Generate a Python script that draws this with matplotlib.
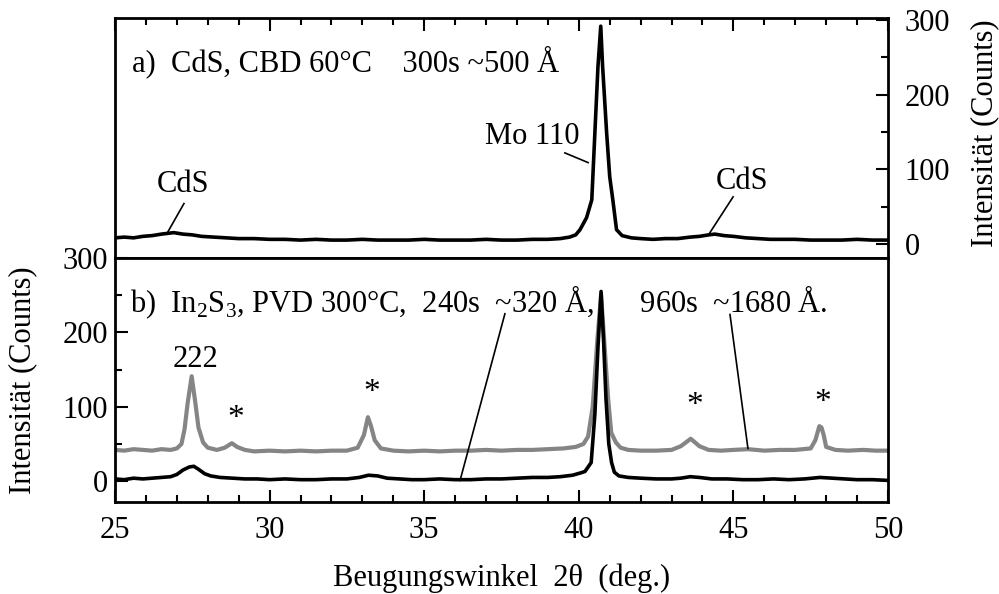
import numpy as np
import matplotlib.pyplot as plt
from matplotlib.ticker import MultipleLocator

FONT_SIZE = 22
plt.rcParams['font.family'] = ['Liberation Serif', 'DejaVu Serif']
plt.rcParams['mathtext.fontset'] = 'custom'
plt.rcParams['mathtext.rm'] = 'Liberation Serif'
plt.rcParams['font.size'] = FONT_SIZE

# a) CdS, CBD 60°C, 300 s
cds_x = [25.0, 25.3, 25.6, 25.9, 26.2, 26.5, 26.7, 26.9, 27.2, 27.5, 27.8, 28.2, 28.6, 29.0, 29.5,
         30.0, 30.5, 31.0, 31.5, 32.0, 32.5, 33.0, 33.5, 34.0, 34.5, 35.0, 35.5, 36.0, 36.5, 37.0,
         37.5, 38.0, 38.5, 39.0, 39.4, 39.7, 39.9, 40.04, 40.25, 40.42, 40.52, 40.62, 40.71, 40.77,
         40.9, 41.0, 41.1, 41.22, 41.4, 41.7, 42.0, 42.4, 42.8, 43.2, 43.6, 43.9, 44.2, 44.4, 44.7,
         45.0, 45.4, 45.8, 46.2, 46.6, 47.0, 47.5, 48.0, 48.5, 49.0, 49.5, 50.0]
cds_y = [8, 9, 8, 10, 11, 13, 14, 15, 13, 12, 10, 9, 8, 7, 7,
         6, 6, 5, 6, 5, 5, 6, 5, 5, 5, 6, 5, 5, 5, 6,
         5, 5, 6, 6, 7, 9, 12, 19, 35, 59, 149, 238, 292, 238,
         149, 90, 59, 19, 11, 8, 7, 6, 7, 7, 9, 10, 12, 13, 11,
         10, 8, 7, 6, 6, 6, 5, 5, 5, 6, 5, 5]

# b) In2S3, PVD 300°C, 960 s (grey)
thick_x = [25.0, 25.3, 25.6, 25.9, 26.2, 26.5, 26.8, 27.0, 27.15, 27.25, 27.35, 27.48, 27.6, 27.7,
           27.85, 28.0, 28.3, 28.55, 28.78, 28.95, 29.2, 29.5, 30.0, 30.5, 31.0, 31.5, 32.0, 32.5,
           32.85, 33.05, 33.18, 33.28, 33.4, 33.6, 34.0, 34.5, 35.0, 35.5, 36.0, 36.5, 37.0, 37.5,
           38.0, 38.5, 39.0, 39.5, 39.9, 40.15, 40.3, 40.45, 40.6, 40.72, 40.82, 40.95, 41.05,
           41.2, 41.35, 41.6, 42.0, 42.5, 43.0, 43.3, 43.62, 43.9, 44.2, 44.6, 45.0, 45.47, 46.0,
           46.5, 47.0, 47.5, 47.65, 47.78, 47.85, 47.92, 48.0, 48.3, 48.7, 49.2, 49.6, 50.0]
thick_y = [42, 41, 43, 42, 41, 43, 42, 44, 50, 70, 105, 141, 105, 72,
           52, 45, 42, 45, 51, 46, 42, 40, 41, 40, 41, 40, 41, 41,
           45, 62, 86, 74, 55, 44, 41, 40, 41, 40, 41, 41, 42, 41,
           42, 42, 43, 44, 46, 50, 60, 100, 190, 250, 190, 110, 65,
           52, 45, 42, 41, 41, 42, 47, 57, 47, 42, 41, 42, 43, 41,
           42, 42, 44, 55, 74, 72, 62, 46, 42, 41, 42, 41, 41]

# b) In2S3, PVD 300°C, 240 s (black)
thin_x = [25.0, 25.3, 25.6, 25.9, 26.2, 26.5, 26.8, 27.0, 27.2, 27.4, 27.55, 27.7, 27.9, 28.1,
          28.4, 28.8, 29.2, 29.6, 30.0, 30.5, 31.0, 31.5, 32.0, 32.5, 32.9, 33.2, 33.5, 33.8,
          34.2, 34.6, 35.0, 35.5, 36.0, 36.5, 37.0, 37.5, 38.0, 38.5, 39.0, 39.4, 39.8, 40.05,
          40.2, 40.4, 40.52, 40.62, 40.72, 40.8, 40.88, 40.97, 41.06, 41.15, 41.3, 41.6, 42.0,
          42.5, 43.0, 43.3, 43.6, 43.9, 44.3, 44.8, 45.3, 45.8, 46.3, 46.8, 47.3, 47.8, 48.2,
          48.6, 49.0, 49.5, 50.0]
thin_y = [3, 2, 4, 3, 4, 5, 6, 9, 15, 19, 20, 16, 10, 7,
          5, 4, 3, 3, 2, 3, 2, 2, 3, 3, 5, 8, 7, 4,
          3, 2, 2, 3, 2, 2, 3, 3, 4, 5, 5, 6, 8, 11,
          13, 25, 90, 180, 255, 190, 110, 50, 25, 12, 7, 5, 4,
          3, 3, 4, 6, 5, 3, 3, 2, 2, 3, 2, 3, 5, 4,
          3, 2, 2, 1]

fig = plt.figure(figsize=(9.99, 5.94), dpi=100)
ax_top = fig.add_axes([0.1151, 0.5657, 0.7738, 0.4040])
ax_bot = fig.add_axes([0.1151, 0.1549, 0.7738, 0.4108], sharex=ax_top)

ax_top.plot(cds_x, cds_y, color='black', lw=2.6)
ax_bot.plot(thick_x, thick_y, color='#858585', lw=3.0)
ax_bot.plot(thin_x, thin_y, color='black', lw=2.6)

ax_top.set_xlim(25, 50)
ax_top.set_ylim(-19, 303)
ax_bot.set_ylim(-28, 300)

for ax in (ax_top, ax_bot):
    for sp in ax.spines.values():
        sp.set_linewidth(2.0)
    ax.xaxis.set_major_locator(MultipleLocator(5))
    ax.xaxis.set_minor_locator(MultipleLocator(1))
    ax.yaxis.set_major_locator(MultipleLocator(100))
    ax.yaxis.set_minor_locator(MultipleLocator(50))
    ax.tick_params(which='both', direction='in', width=1.5, labelsize=FONT_SIZE)
    ax.tick_params(which='major', length=9)
    ax.tick_params(which='minor', length=5)

# top panel: x ticks on top only, y axis on the right
ax_top.tick_params(axis='x', which='both', bottom=False, top=True, labelbottom=False, labeltop=False)
ax_top.tick_params(axis='y', which='both', left=False, right=True, labelleft=False, labelright=True, pad=12)
ax_top.yaxis.set_label_position('right')
ax_top.set_ylabel('Intensität (Counts)', fontsize=FONT_SIZE)
ax_top.yaxis.set_label_coords(1.1255, 0.52)
ax_top.yaxis.label.set_va('center')

# bottom panel: x ticks at bottom, y axis on the left
ax_bot.tick_params(axis='x', which='both', bottom=True, top=False, pad=10)
ax_bot.tick_params(axis='y', which='both', left=True, right=False, pad=5)
ax_bot.set_ylabel('Intensität (Counts)', fontsize=FONT_SIZE)
ax_bot.yaxis.set_label_coords(-0.119, 0.5)
ax_bot.yaxis.label.set_va('center')
ax_bot.set_xlabel('Beugungswinkel  2θ  (deg.)', fontsize=FONT_SIZE)
ax_bot.xaxis.set_label_coords(0.5, -0.345)
ax_bot.xaxis.label.set_va('baseline')

# annotations, top
ax_top.text(25.55, 244, 'a)  CdS, CBD 60°C    300s ~500 Å', va='center', ha='left', fontsize=FONT_SIZE)
ax_top.text(27.2, 79, 'CdS', ha='center', va='center', fontsize=FONT_SIZE)
ax_top.plot([27.23, 26.71], [54, 16], color='black', lw=1.2)
ax_top.text(38.5, 144, 'Mo 110', ha='center', va='center', fontsize=FONT_SIZE)
ax_top.plot([39.55, 40.3], [122, 109], color='black', lw=1.2)
ax_top.text(45.27, 83, 'CdS', ha='center', va='center', fontsize=FONT_SIZE)
ax_top.plot([44.99, 44.24], [63, 15], color='black', lw=1.2)

# annotations, bottom
ax_bot.text(25.49, 241, 'b)  In$_2$S$_3$, PVD 300°C,  240s  ~320 Å,      960s  ~1680 Å.',
            va='center', ha='left', fontsize=FONT_SIZE)
ax_bot.plot([37.61, 36.16], [225, 1], color='black', lw=1.2)
ax_bot.plot([44.89, 45.47], [224, 44], color='black', lw=1.2)
ax_bot.text(27.6, 164, '222', ha='center', va='center', fontsize=FONT_SIZE)
star_x = [28.9, 33.3, 43.76, 47.9]
star_y = [84, 119, 101, 106]
for sx, sy in zip(star_x, star_y):
    ax_bot.text(sx, sy, '*', ha='center', va='center', fontsize=FONT_SIZE + 2)

fig.savefig('out.png', dpi=100)
